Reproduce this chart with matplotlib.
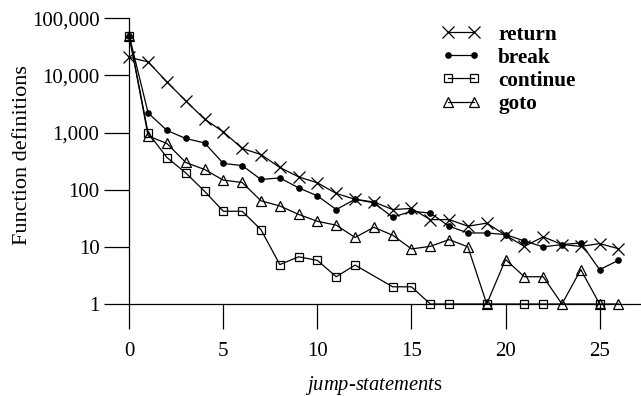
import matplotlib
matplotlib.use("Agg")
import matplotlib.pyplot as plt
from matplotlib.ticker import NullLocator

matplotlib.rcParams['font.family'] = 'Liberation Serif'
matplotlib.rcParams['mathtext.fontset'] = 'custom'
matplotlib.rcParams['mathtext.rm'] = 'Liberation Serif'
matplotlib.rcParams['mathtext.it'] = 'Liberation Serif:italic'

# data
x_all = list(range(27))
return_vals = [20700, 17300, 7700, 3590, 1720, 1030, 527, 413, 245, 168, 132, 86, 68, 61,
               45, 47, 30, 30, 23, 26, 16, 10.2, 15, 11, 10.2, 11.4, 9.3]
break_vals = [49000, 2210, 1090, 788, 660, 288, 265, 151, 161, 108, 78, 45, 68, 59,
              33, 42, 39, 23, 17.5, 17.5, 16.4, 12.7, 10, 11, 11.7, 4, 5.8]
continue_x = [0, 1, 2, 3, 4, 5, 6, 7, 8, 9, 10, 11, 12, 14, 15, 16, 17, 19, 21, 22, 25]
continue_vals = [49000, 990, 366, 197, 94, 42, 42, 20, 4.9, 6.7, 5.8, 3, 4.8, 2, 2,
                 1, 1, 1, 1, 1, 1]
goto_vals = [49000, 875, 645, 300, 226, 147, 134, 64, 52, 37, 28, 24, 14.6, 22, 16,
             9.2, 10.2, 13.4, 10, 1, 6, 3, 3, 1, 4, 1, 1]

y_ticks = [1, 10, 100, 1000, 10000, 100000]
y_ticklabels = ['1', '10', '100', '1,000', '10,000', '100,000']
x_ticks = [0, 5, 10, 15, 20, 25]

fig = plt.figure(figsize=(6.41, 3.96), dpi=100)
ax = fig.add_axes([0.2017, 0.2323, 0.7983, 0.7215])

lw = 0.9
ax.plot(x_all, return_vals, color='black', lw=lw, marker='x', ms=9, mew=0.9,
        label='return', clip_on=False)
ax.plot(x_all, break_vals, color='black', lw=lw, marker='o', ms=3.8,
        label='break', clip_on=False)
ax.plot(continue_x, continue_vals, color='black', lw=lw, marker='s', ms=6, mew=0.9,
        mfc='none', label='continue', clip_on=False)
ax.plot(x_all, goto_vals, color='black', lw=lw, marker='^', ms=7.5, mew=0.9,
        mfc='none', label='goto', clip_on=False)

ax.set_yscale('log')
ax.set_ylim(1, 100000)
ax.set_xlim(0, 27.2)
ax.set_yticks(y_ticks)
ax.set_yticklabels(y_ticklabels)
ax.yaxis.set_minor_locator(NullLocator())
ax.set_xticks(x_ticks)

for s in ['top', 'right']:
    ax.spines[s].set_visible(False)
for s in ['left', 'bottom']:
    ax.spines[s].set_linewidth(0.9)
ax.tick_params(axis='both', direction='out', length=18, width=0.9, labelsize=15)
ax.tick_params(axis='y', pad=3.5)
ax.tick_params(axis='x', pad=9)

ax.set_ylabel('Function definitions', fontsize=16)
ax.yaxis.set_label_coords(-0.19, 0.52)
ax.set_xlabel(r'$\mathit{jump}$-$\mathit{statement}$s', fontsize=14.8)
ax.xaxis.set_label_coords(13 / 27.2, -0.245)

leg = ax.legend(loc='upper left', bbox_to_anchor=(441.7 / 641, 0.938),
                bbox_transform=fig.transFigure, frameon=False, numpoints=2,
                handlelength=1.8, handletextpad=0.85, labelspacing=0.15,
                borderpad=0, borderaxespad=0, prop={'weight': 'bold', 'size': 15.3})

fig.savefig('out.png', dpi=100)
